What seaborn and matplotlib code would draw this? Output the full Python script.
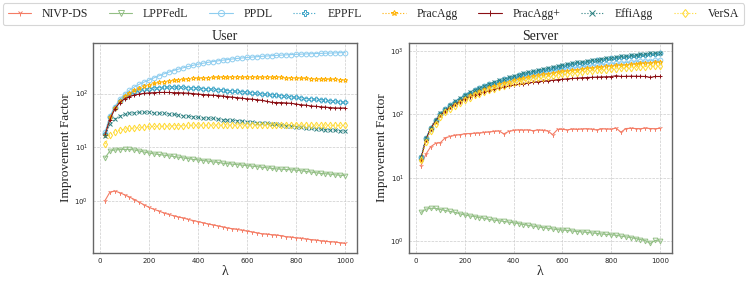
import numpy as np
import pandas as pd
import matplotlib
matplotlib.use("Agg")
import matplotlib.pyplot as plt
import seaborn as sns

# lambda values (x axis)
lam = list(range(20, 1001, 20))

methods = ["NIVP-DS", "LPPFedL", "PPDL", "EPPFL", "PracAgg", "PracAgg+", "EffiAgg", "VerSA"]

# ---- User panel ----
user_nivp = [1.03, 1.48, 1.55, 1.45, 1.32, 1.2, 1.08, 0.96, 0.86, 0.77, 0.71, 0.66, 0.61, 0.57, 0.54,
             0.51, 0.49, 0.46, 0.44, 0.42, 0.40, 0.38, 0.365, 0.35, 0.335, 0.32, 0.31, 0.30, 0.29, 0.28,
             0.27, 0.26, 0.25, 0.245, 0.24, 0.235, 0.23, 0.22, 0.215, 0.21, 0.205, 0.20, 0.195, 0.19,
             0.185, 0.18, 0.178, 0.175, 0.17, 0.165]
user_lppfedl = [6.4, 8.6, 9.0, 9.1, 9.2, 9.2, 9.0, 8.6, 8.2, 7.9, 7.6, 7.4, 7.2, 7.0, 6.8, 6.6, 6.4, 6.2,
                6.0, 5.9, 5.7, 5.6, 5.4, 5.3, 5.1, 5.0, 4.9, 4.8, 4.7, 4.6, 4.5, 4.4, 4.3, 4.2, 4.1, 4.0,
                3.95, 3.9, 3.85, 3.8, 3.7, 3.6, 3.5, 3.4, 3.3, 3.25, 3.2, 3.1, 3.05, 3.0]
user_ppdl = [19, 38, 57, 78, 98, 116, 133, 149, 164, 178, 196, 214, 232, 250, 268, 285, 302, 319, 336,
             352, 366, 380, 393, 405, 417, 428, 439, 449, 459, 468, 476, 484, 492, 499, 506, 512, 518,
             524, 530, 535, 540, 545, 549, 554, 558, 562, 566, 570, 574, 578]
user_eppfl = [18, 37, 55, 72, 88, 100, 109, 116, 121, 124, 127, 129, 130, 131, 131, 131, 130, 129, 128,
              126, 124, 122, 120, 118, 116, 114, 112, 110, 108, 106, 104, 101, 99, 97, 95, 93, 91, 89,
              87, 85, 83, 81, 80, 78, 77, 75, 73, 72, 70, 69]
user_pracagg = [17, 36, 54, 72, 90, 104, 116, 127, 137, 146, 154, 161, 167, 172, 177, 181, 185, 188,
                191, 194, 196, 198, 200, 201, 202, 203, 204, 204, 205, 205, 204, 204, 203, 202, 201,
                200, 199, 197, 196, 195, 193, 192, 190, 189, 187, 186, 184, 183, 181, 180]
user_pracaggp = [17, 33, 52, 68, 80, 88, 94, 98, 101, 103, 104, 105, 105, 105, 104, 104, 103, 102, 100,
                 98, 96, 95, 93, 92, 90, 88, 86, 84, 82, 80, 79, 77, 75, 72, 69, 68, 68, 67, 66, 64,
                 62, 61, 59, 58, 57, 56, 55, 54, 54, 54]
user_effiagg = [16, 27, 34, 38, 41, 43, 44, 45, 45, 45, 44, 43.5, 43, 42, 41, 40, 39, 38, 37, 36, 35.5,
                35, 34.5, 34, 33, 32.5, 32, 31.5, 31, 30, 29.5, 29, 28.5, 28, 27.5, 27, 26.5, 25.5, 25,
                24, 23.5, 23, 22.5, 22, 22, 21.5, 21, 21, 20.5, 20]
user_versa = [11.5, 17, 19.5, 21, 22, 22.5, 23, 23.5, 24, 24.5, 24.5, 25, 25, 25, 25.5, 25.5, 25.5,
              25.8, 26, 26, 26, 26.2, 26, 26.2, 26.3, 26.2, 26.3, 26.4, 26.3, 26.4, 26.4, 26.3, 26.5,
              26.4, 26.3, 26.4, 26.2, 26.3, 26.2, 26.1, 26.2, 26, 26.1, 26, 25.9, 26, 25.8, 25.8,
              25.7, 25.6]

# ---- Server panel ----
srv_nivp = [15.5, 23.5, 31, 35, 36, 43, 45, 47, 48, 49.5, 50, 50.5, 51, 52, 53, 54, 55, 49.5, 54, 56,
            57, 56.5, 57, 55.5, 57, 56, 55, 48, 58, 58.5, 57, 59, 58, 59, 59.5, 58.5, 57, 59.5, 59,
            58.5, 61, 52.5, 60, 60.5, 60, 59.5, 61, 60, 59.5, 60.5]
srv_lppfedl = [2.85, 3.2, 3.3, 3.3, 3.15, 3.05, 2.95, 2.85, 2.7, 2.6, 2.5, 2.45, 2.35, 2.3, 2.2, 2.15,
               2.1, 2.05, 2.0, 1.95, 1.9, 1.83, 1.78, 1.73, 1.68, 1.64, 1.6, 1.56, 1.52, 1.5, 1.48,
               1.45, 1.42, 1.4, 1.38, 1.35, 1.33, 1.3, 1.28, 1.26, 1.24, 1.2, 1.17, 1.14, 1.1, 1.06,
               1.02, 0.92, 1.03, 1.0]
srv_ppdl = [20, 41, 60, 79, 100, 117, 135, 152, 169, 192, 210, 228, 246, 263, 280, 297, 314, 331, 348,
            364, 380, 396, 411, 426, 441, 456, 470, 484, 498, 512, 525, 538, 551, 563, 575, 587, 598,
            609, 620, 631, 641, 651, 661, 671, 680, 689, 698, 707, 715, 723]
srv_eppfl = [21, 42, 62, 81, 103, 121, 140, 158, 177, 201, 221, 241, 261, 280, 299, 319, 338, 357, 376,
             395, 414, 433, 452, 471, 490, 509, 528, 547, 566, 585, 603, 622, 640, 659, 677, 696, 714,
             731, 749, 766, 783, 800, 816, 832, 848, 864, 879, 894, 908, 922]
srv_pracagg = [19, 39, 58, 77, 97, 113, 130, 146, 162, 184, 201, 218, 235, 251, 267, 283, 299, 315, 330,
               345, 360, 374, 388, 402, 415, 428, 441, 454, 466, 478, 490, 502, 513, 524, 535, 546, 556,
               566, 576, 586, 595, 604, 613, 622, 631, 639, 647, 655, 663, 670]
srv_pracaggp = [20, 40, 60, 80, 98, 114, 130, 145, 160, 178, 190, 202, 214, 226, 238, 250, 260, 270, 280,
                290, 298, 306, 314, 322, 330, 336, 342, 348, 354, 360, 365, 370, 375, 380, 383, 386, 389,
                392, 394, 396, 410, 398, 400, 402, 401, 400, 398, 385, 398, 398]
srv_effiagg = [21, 42, 62, 82, 104, 122, 142, 161, 180, 205, 225, 246, 266, 286, 306, 326, 346, 366, 386,
               406, 426, 446, 466, 485, 505, 525, 545, 564, 584, 604, 623, 643, 662, 682, 700, 720, 738,
               756, 775, 793, 810, 827, 844, 860, 877, 893, 909, 924, 938, 950]
srv_versa = [19, 37, 55, 72, 92, 108, 123, 138, 152, 170, 185, 200, 214, 228, 242, 256, 270, 284, 298,
             312, 324, 336, 348, 360, 372, 383, 394, 405, 416, 428, 438, 448, 458, 468, 478, 486, 495,
             503, 511, 519, 527, 535, 543, 550, 557, 565, 572, 579, 586, 592]

user_vals = [user_nivp, user_lppfedl, user_ppdl, user_eppfl, user_pracagg, user_pracaggp, user_effiagg, user_versa]
srv_vals = [srv_nivp, srv_lppfedl, srv_ppdl, srv_eppfl, srv_pracagg, srv_pracaggp, srv_effiagg, srv_versa]

# styles
colors = ["#f47c65", "#93bf85", "#8ecdef", "#3aa3c6", "#ffb000", "#8b0f14", "#2a7f80", "#ffd92f"]
lstyles = ["-", "-", "-", ":", ":", "-", ":", ":"]
markers = ["1", "v", "o", "P", "*", "+", "x", "d"]
hollow = [False, True, True, True, True, False, False, True]

rows = []
for panel, vals in [("User", user_vals), ("Server", srv_vals)]:
    for m, v in zip(methods, vals):
        for x, y in zip(lam, v):
            rows.append({"panel": panel, "method": m, "lambda": x, "value": y})
df = pd.DataFrame(rows)

sns.set_style("whitegrid")
plt.rcParams["font.family"] = ["DejaVu Sans"]
serif = ["Liberation Serif", "DejaVu Serif"]

fig = plt.figure(figsize=(7.47, 2.93), dpi=100)
ax1 = fig.add_axes([0.1245, 0.1365, 0.3534, 0.7167])
ax2 = fig.add_axes([0.5475, 0.1365, 0.352, 0.7167])

for ax, panel in [(ax1, "User"), (ax2, "Server")]:
    sub = df[df["panel"] == panel]
    for i, m in enumerate(methods):
        d = sub[sub["method"] == m]
        sns.lineplot(data=d, x="lambda", y="value", ax=ax, color=colors[i], linestyle=lstyles[i],
                     linewidth=0.8, marker=markers[i], markersize=3.4,
                     markerfacecolor="none" if hollow[i] else colors[i],
                     markeredgecolor=colors[i], markeredgewidth=0.7, label=m, legend=False)
    ax.set_yscale("log")
    ax.set_xticks([0, 200, 400, 600, 800, 1000])
    ax.tick_params(labelsize=5, length=2, pad=1.5)
    ax.grid(True, linestyle="--", linewidth=0.5, color="#cccccc")
    for s in ax.spines.values():
        s.set_color("#666666")
        s.set_linewidth(1.0)
    ax.set_title(panel, fontsize=10, family=serif, pad=2)
    ax.set_xlabel("λ", fontsize=10, family=serif, labelpad=1)
    ax.set_ylabel("Improvement Factor", fontsize=9.5, family=serif, labelpad=2)

handles, labels = ax1.get_legend_handles_labels()
leg = fig.legend(handles, labels, loc="lower left", ncol=8, mode="expand",
                 bbox_to_anchor=(0.004, 0.915, 0.992, 0.075), frameon=True,
                 prop={"family": serif, "size": 8.5}, handlelength=2.0, borderaxespad=0,
                 columnspacing=1.0, handletextpad=0.9, markerscale=1.3)
leg.get_frame().set_edgecolor("#cccccc")
leg.get_frame().set_linewidth(0.8)

fig.savefig("out.png", dpi=100)
